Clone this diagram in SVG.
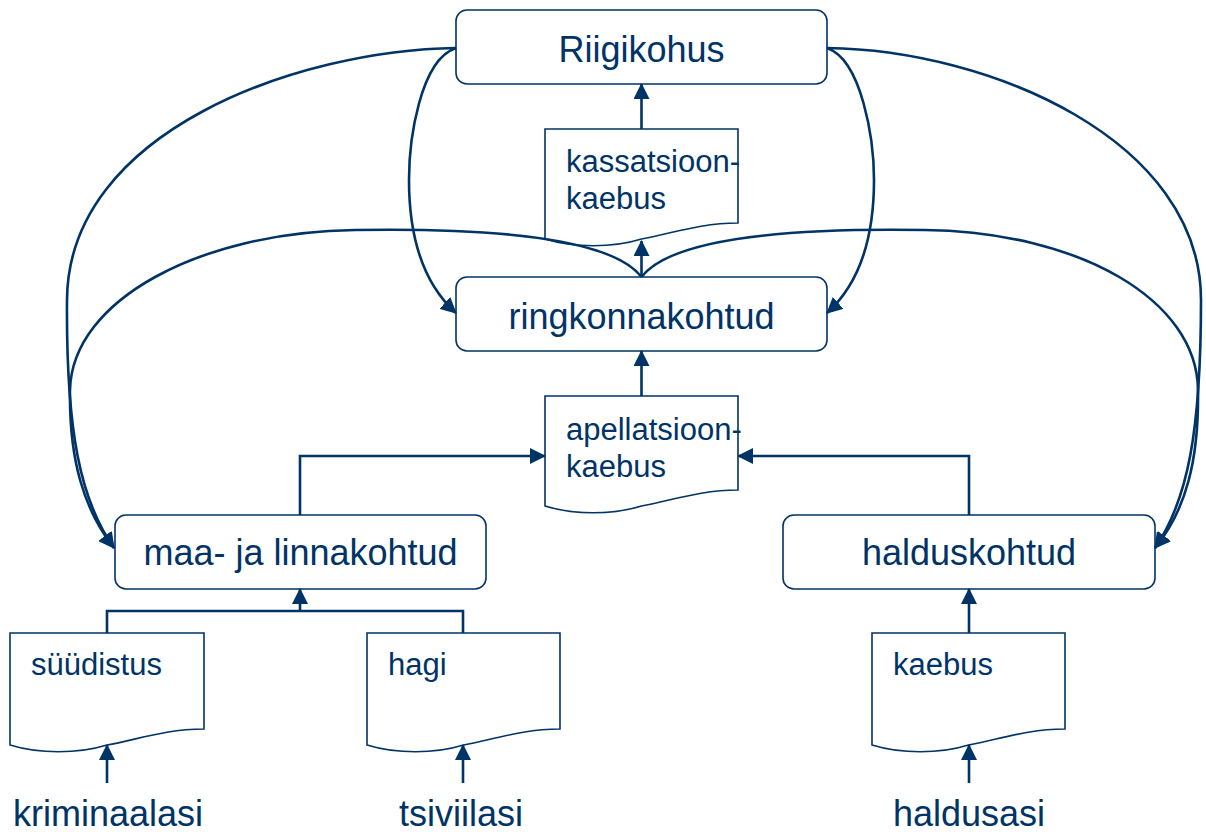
<svg xmlns="http://www.w3.org/2000/svg" width="1206" height="832" viewBox="0 0 1206 832">
<style>
.box{fill:#fff;stroke:#003366;stroke-width:1.6}
.doc{fill:#fff;stroke:#003366;stroke-width:1.6}
.conn{fill:none;stroke:#003366;stroke-width:2.6}
.arr{marker-end:url(#ah)}
.big{font-family:"Liberation Sans",Arial,sans-serif;font-size:36px;fill:#003366;text-anchor:middle}
.sm{font-family:"Liberation Sans",Arial,sans-serif;font-size:31px;fill:#003366}
</style>
<defs>
<marker id="ah" viewBox="0 0 16 16" markerWidth="16" markerHeight="16" refX="15" refY="8" orient="auto" markerUnits="userSpaceOnUse">
<path d="M0,0 L16,8 L0,16 z" fill="#003366"/>
</marker>
</defs>
<rect width="1206" height="832" fill="#fff"/>

<g id="riigikohus">
<rect class="box" x="456" y="10" width="371" height="74" rx="11"/>
<text class="big" x="641.5" y="62">Riigikohus</text>
</g>
<g id="kassatsioon">
<path class="doc" d="M545,129 H738 V223 C699.4,223 670.5,234 641.5,239 C612.6,248 574,248 545,239 Z"/>
<text class="sm" x="566" y="172">kassatsioon-</text>
<text class="sm" x="566" y="209">kaebus</text>
</g>
<g id="ringkonnakohtud">
<rect class="box" x="456" y="277" width="371" height="74" rx="11"/>
<text class="big" x="641.5" y="329">ringkonnakohtud</text>
</g>
<g id="apellatsioon">
<path class="doc" d="M545,396 H738 V490 C699.4,490 670.5,501 641.5,506 C612.6,515 574,515 545,506 Z"/>
<text class="sm" x="566" y="440">apellatsioon-</text>
<text class="sm" x="566" y="477">kaebus</text>
</g>
<g id="maalinnakohtud">
<rect class="box" x="115" y="515" width="371" height="74" rx="11"/>
<text class="big" x="300.5" y="565">maa- ja linnakohtud</text>
</g>
<g id="halduskohtud">
<rect class="box" x="783" y="515" width="372" height="74" rx="11"/>
<text class="big" x="969" y="565">halduskohtud</text>
</g>
<g id="syydistus">
<path class="doc" d="M10,633 H204 V729 C165.2,729 136.1,740 107,745 C77.9,754 39.1,754 10,745 Z"/>
<text class="sm" x="31" y="675">süüdistus</text>
</g>
<g id="hagi">
<path class="doc" d="M367,633 H560 V729 C521.4,729 492.5,740 463.5,745 C434.6,754 396,754 367,745 Z"/>
<text class="sm" x="388" y="675">hagi</text>
</g>
<g id="kaebus">
<path class="doc" d="M872,633 H1065 V729 C1026.4,729 997.5,740 968.5,745 C939.6,754 901,754 872,745 Z"/>
<text class="sm" x="893" y="675">kaebus</text>
</g>
<g id="kriminaalasi"><text class="big" x="108" y="826">kriminaalasi</text></g>
<g id="tsiviilasi"><text class="big" x="461" y="826">tsiviilasi</text></g>
<g id="haldusasi"><text class="big" x="969" y="826">haldusasi</text></g>

<g id="connectors">
<path class="conn arr" d="M641.5,129 V84"/>
<path class="conn arr" d="M641.5,277 V241"/>
<path class="conn arr" d="M641.5,396 V351"/>
<path class="conn arr" d="M300,515 V456 H545"/>
<path class="conn arr" d="M969,515 V456 H738"/>
<path class="conn" d="M107,633 V611 H463 V633"/>
<path class="conn arr" d="M300,611 V589"/>
<path class="conn arr" d="M969,633 V589"/>
<path class="conn arr" d="M107,783 V745"/>
<path class="conn arr" d="M463,783 V745"/>
<path class="conn arr" d="M969,783 V745"/>
<path class="conn arr" d="M456,48 C300,50 68,130 67,300 C66,430 80,500 114,548"/>
<path class="conn arr" d="M641.5,277 C610,236 480,228 355,230 C200,232 72,300 70,390 C69,460 84,510 114,548"/>
<path class="conn arr" d="M827,48 C990,50 1201,140 1201,300 C1201,430 1188,500 1155,548"/>
<path class="conn arr" d="M641.5,277 C673,236 800,228 925,230 C1080,232 1197,300 1198,390 C1199,460 1186,510 1155,548"/>
<path class="conn arr" d="M456,48 C420,60 409,140 409,180 C409,240 425,285 456,313"/>
<path class="conn arr" d="M827,48 C862,60 874,140 874,180 C874,240 858,285 827,313"/>
</g>
</svg>
